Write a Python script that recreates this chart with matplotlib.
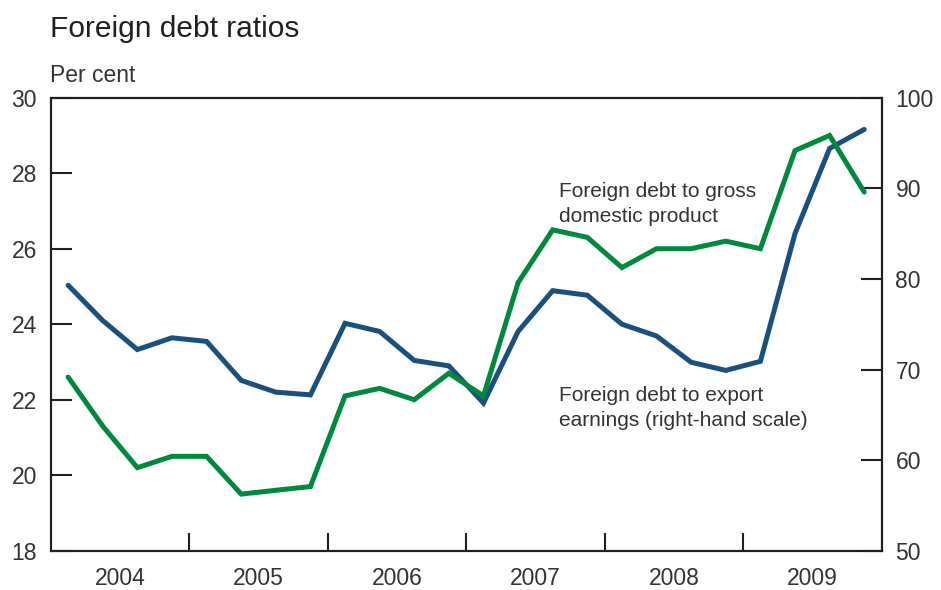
import numpy as np
import matplotlib
matplotlib.use("Agg")
import matplotlib.pyplot as plt
from matplotlib.ticker import FixedLocator, NullFormatter, FixedFormatter

plt.rcParams['font.family'] = ['Liberation Sans', 'DejaVu Sans']

# Quarterly observations, 2004 Q1 to 2009 Q4
quarters = [f"{y}Q{q}" for y in range(2004, 2010) for q in range(1, 5)]

# Foreign debt to GDP, per cent (left axis)
debt_to_gdp = [22.6, 21.3, 20.2, 20.5, 20.5, 19.5, 19.6, 19.7,
               22.1, 22.3, 22.0, 22.7, 22.1, 25.1, 26.5, 26.3,
               25.5, 26.0, 26.0, 26.2, 26.0, 28.6, 29.0, 27.5]

# Foreign debt to export earnings, per cent (right axis)
debt_to_exports = [79.3, 75.4, 72.2, 73.5, 73.1, 68.8, 67.5, 67.2,
                   75.1, 74.2, 71.0, 70.4, 66.3, 74.2, 78.7, 78.2,
                   75.0, 73.7, 70.8, 69.9, 70.9, 85.0, 94.4, 96.5]

years = [2004, 2005, 2006, 2007, 2008, 2009]
left_ticks = [18, 20, 22, 24, 26, 28, 30]
right_ticks = [50, 60, 70, 80, 90, 100]

GREEN = '#00893E'
BLUE = '#1B4F7C'
INK = '#231F20'
TEXT = '#333333'

# Place each quarter at the middle of its quarter within the year
x = np.array([int(q[:4]) + (int(q[-1]) - 0.5) / 4 for q in quarters])

fig = plt.figure(figsize=(9.41, 5.90), dpi=100)
ax = fig.add_axes([0.054, 0.0666, 0.8828, 0.7678])
ax2 = ax.twinx()

ax2.plot(x, debt_to_exports, color=BLUE, lw=3.6, solid_capstyle='round',
         solid_joinstyle='miter', zorder=2)
ax2.set_zorder(1)
ax.set_zorder(2)
ax.patch.set_visible(False)
ax.plot(x, debt_to_gdp, color=GREEN, lw=3.6, solid_capstyle='round',
        solid_joinstyle='miter', zorder=3)

ax.set_xlim(2004, 2010)
ax.set_ylim(18, 30)
ax2.set_ylim(50, 100)

ax.set_yticks(left_ticks)
ax2.set_yticks(right_ticks)

# Year boundaries get tick marks; year labels sit mid-year
ax.xaxis.set_major_locator(FixedLocator(years[1:]))
ax.xaxis.set_major_formatter(NullFormatter())
ax.xaxis.set_minor_locator(FixedLocator([y + 0.5 for y in years]))
ax.xaxis.set_minor_formatter(FixedFormatter([str(y) for y in years]))

ax.tick_params(axis='x', which='major', direction='in', length=13, width=1.5,
               color=INK)
ax.tick_params(axis='x', which='minor', length=0, pad=12, labelsize=16.5,
               labelcolor=TEXT)
ax.tick_params(axis='y', direction='in', length=15, width=1.5, color=INK,
               labelsize=16.5, labelcolor=TEXT, pad=10)
ax2.tick_params(axis='y', direction='in', length=15, width=1.5, color=INK,
                labelsize=16.5, labelcolor=TEXT, pad=10)

for a in (ax, ax2):
    for s in a.spines.values():
        s.set_color(INK)
        s.set_linewidth(1.5)

fig.text(50 / 941, 1 - 37 / 590, 'Foreign debt ratios', fontsize=21.5,
         color=INK, ha='left', va='baseline')
fig.text(50 / 941, 1 - 82 / 590, 'Per cent', fontsize=16.5,
         color=TEXT, ha='left', va='baseline')

# Series labels (baseline of the last line given in data units)
ax.text(2007.67, 26.72, 'Foreign debt to gross\ndomestic product',
        fontsize=15, color=TEXT, ha='left', va='baseline',
        linespacing=1.4)
ax.text(2007.67, 21.30, 'Foreign debt to export\nearnings (right-hand scale)',
        fontsize=15, color=TEXT, ha='left', va='baseline',
        linespacing=1.4)

fig.savefig('out.png', dpi=100)
